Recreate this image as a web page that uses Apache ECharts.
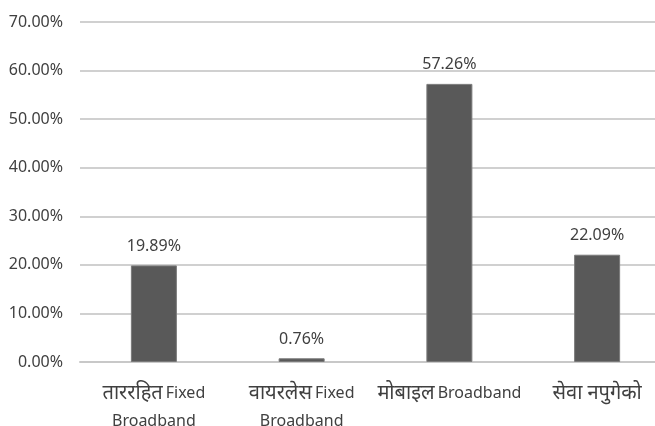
<!DOCTYPE html>
<html>
<head>
<meta charset="utf-8">
<script src="https://cdn.jsdelivr.net/npm/echarts@6/dist/echarts.min.js"></script>
<style>
  html, body { margin: 0; padding: 0; background: #ffffff; }
  #chart { width: 655px; height: 426px; }
</style>
</head>
<body>
<div id="chart"></div>
<script>
// Broadband access types (share of households, %)
// Each category: [Nepali part, English part (may contain a line break)]
const categoryParts = [
  ['ताररहित', 'Fixed\nBroadband'],
  ['वायरलेस', 'Fixed\nBroadband'],
  ['मोबाइल', 'Broadband'],
  ['सेवा नपुगेको', '']
];
const shares = [19.89, 0.76, 57.26, 22.09];
const yTicks = { min: 0, max: 70, step: 10 };

const categories = categoryParts.map(p => (p[0] + (p[1] ? ' ' + p[1] : '')));

const FONT = '"Noto Sans", sans-serif';
const TEXT = '#404040';

function richLabel(value) {
  const idx = categories.indexOf(value);
  const [np, en] = categoryParts[idx];
  if (!en) return '{d|' + np + '}';
  const lines = en.split('\n');
  let out = '{d|' + np + '} {l|' + lines[0] + '}';
  for (let i = 1; i < lines.length; i++) out += '\n{l|' + lines[i] + '}';
  return out;
}

const chart = echarts.init(document.getElementById('chart'), null, { renderer: 'canvas' });
chart.setOption({
  animation: false,
  backgroundColor: '#ffffff',
  // the plot area runs slightly past the right edge of the canvas
  grid: { left: 80, width: 591, top: 22, bottom: 64, outerBoundsMode: 'none', containLabel: false },
  xAxis: {
    type: 'category',
    data: categories,
    axisTick: { show: false },
    axisLine: { lineStyle: { color: '#c8c8c8', width: 2 } },
    axisLabel: {
      color: TEXT,
      fontFamily: FONT,
      margin: 17,
      interval: 0,
      hideOverlap: false,
      formatter: richLabel,
      rich: {
        d: { fontFamily: FONT, fontSize: 20, color: TEXT, lineHeight: 28 },
        l: { fontFamily: FONT, fontSize: 16, color: TEXT, lineHeight: 28 }
      }
    }
  },
  yAxis: {
    type: 'value',
    min: yTicks.min,
    max: yTicks.max,
    interval: yTicks.step,
    axisLine: { show: false },
    axisTick: { show: false },
    splitLine: { lineStyle: { color: '#d0d0d0', width: 2 } },
    axisLabel: {
      color: TEXT,
      fontFamily: FONT,
      fontSize: 16,
      margin: 17,
      formatter: v => v.toFixed(2) + '%'
    }
  },
  series: [{
    type: 'bar',
    data: shares,
    barWidth: 46,
    itemStyle: { color: '#595959', borderColor: '#7a7a7a', borderWidth: 1 },
    label: {
      show: true,
      position: 'top',
      distance: 11,
      color: TEXT,
      fontFamily: FONT,
      fontSize: 16,
      formatter: p => p.value.toFixed(2) + '%'
    }
  }]
});
</script>
</body>
</html>
